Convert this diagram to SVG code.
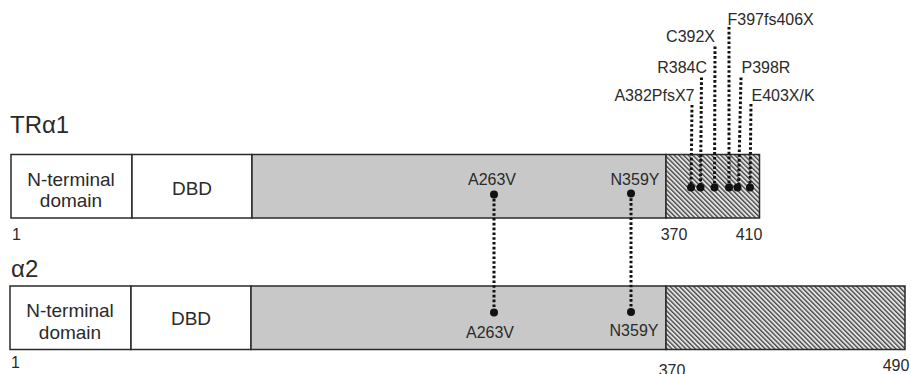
<svg xmlns="http://www.w3.org/2000/svg" width="911" height="374" viewBox="0 0 911 374">
<style>
  text { font-family: "Liberation Sans", Arial, sans-serif; fill: #2a2a2a; }
  .title { font-size: 24px; }
  .dom { font-size: 19px; text-anchor: middle; }
  .lbl { font-size: 16px; }
  .mid { text-anchor: middle; }
  .end { text-anchor: end; }
  .box { fill: #ffffff; stroke: #2a2a2a; stroke-width: 1.5; }
  .lbd { fill: #c8c8c8; stroke: #2a2a2a; stroke-width: 1.5; }
  .hatch { fill: url(#hatch); stroke: #2a2a2a; stroke-width: 1.5; }
  .dot { stroke: #111; stroke-width: 3; stroke-dasharray: 2.6 2.2; fill: none; }
  .pt { fill: #111; }
</style>
<defs>
  <pattern id="hatch" patternUnits="userSpaceOnUse" width="3.3" height="10" patternTransform="rotate(-45)">
    <rect width="3.3" height="10" fill="#e2e2e2"/>
    <line x1="0.7" y1="0" x2="0.7" y2="10" stroke="#3a3a3a" stroke-width="1.25"/>
  </pattern>
</defs>

<g id="tra1">
  <text class="title" x="10" y="133">TRα1</text>
  <g id="tra1-nterm">
    <rect class="box" x="11" y="154.5" width="121" height="63.5"/>
    <text class="dom" x="71" y="185.5">N-terminal</text>
    <text class="dom" x="71" y="207">domain</text>
  </g>
  <g id="tra1-dbd">
    <rect class="box" x="132" y="154.5" width="120" height="63.5"/>
    <text class="dom" x="192" y="195">DBD</text>
  </g>
  <g id="tra1-lbd">
    <rect class="lbd" x="252" y="154.5" width="414" height="63.5"/>
    <text class="lbl mid" x="492" y="185">A263V</text>
    <text class="lbl mid" x="635" y="185">N359Y</text>
  </g>
  <g id="tra1-tail">
    <rect class="hatch" x="666" y="154.5" width="93.5" height="63.5"/>
  </g>
  <text class="lbl" x="12" y="239.5">1</text>
  <text class="lbl mid" x="674" y="240">370</text>
  <text class="lbl mid" x="749" y="240">410</text>
</g>

<g id="a2">
  <text class="title" x="11" y="277">α2</text>
  <g id="a2-nterm">
    <rect class="box" x="10" y="286" width="121" height="63.5"/>
    <text class="dom" x="70" y="317">N-terminal</text>
    <text class="dom" x="70" y="339">domain</text>
  </g>
  <g id="a2-dbd">
    <rect class="box" x="131" y="286" width="120" height="63.5"/>
    <text class="dom" x="191" y="325">DBD</text>
  </g>
  <g id="a2-lbd">
    <rect class="lbd" x="251" y="286" width="415" height="63.5"/>
    <text class="lbl mid" x="490" y="338">A263V</text>
    <text class="lbl mid" x="634" y="336">N359Y</text>
  </g>
  <g id="a2-tail">
    <rect class="hatch" x="666" y="286" width="239" height="63.5"/>
  </g>
  <text class="lbl" x="11" y="368">1</text>
  <text class="lbl mid" x="672" y="376">370</text>
  <text class="lbl mid" x="896" y="371">490</text>
</g>

<g id="mutation-labels">
  <text class="lbl" x="727.5" y="24.5">F397fs406X</text>
  <text class="lbl end" x="715" y="41.5">C392X</text>
  <text class="lbl end" x="707" y="73">R384C</text>
  <text class="lbl" x="741.5" y="73">P398R</text>
  <text class="lbl end" x="694.5" y="101">A382PfsX7</text>
  <text class="lbl" x="751.5" y="101">E403X/K</text>
</g>

<g id="connectors">
  <line class="dot" x1="692" y1="105" x2="691" y2="187"/>
  <line class="dot" x1="701.5" y1="77.5" x2="700.5" y2="187"/>
  <line class="dot" x1="715" y1="46.5" x2="714.5" y2="187"/>
  <line class="dot" x1="729" y1="27" x2="729" y2="187"/>
  <line class="dot" x1="741" y1="77.5" x2="738.5" y2="187"/>
  <line class="dot" x1="751" y1="104" x2="750" y2="187"/>
  <circle class="pt" cx="691" cy="187.5" r="4"/>
  <circle class="pt" cx="700.5" cy="187.5" r="4"/>
  <circle class="pt" cx="714.5" cy="187.5" r="4"/>
  <circle class="pt" cx="729" cy="187.5" r="4"/>
  <circle class="pt" cx="737.5" cy="187.5" r="4"/>
  <circle class="pt" cx="750" cy="187.5" r="4"/>

  <line class="dot" x1="494" y1="194" x2="494" y2="312.5"/>
  <line class="dot" x1="631" y1="193.5" x2="631" y2="312"/>
  <circle class="pt" cx="494" cy="194.5" r="4"/>
  <circle class="pt" cx="631" cy="193.5" r="4"/>
  <circle class="pt" cx="494" cy="312.5" r="4"/>
  <circle class="pt" cx="631" cy="312" r="4"/>
</g>
</svg>
